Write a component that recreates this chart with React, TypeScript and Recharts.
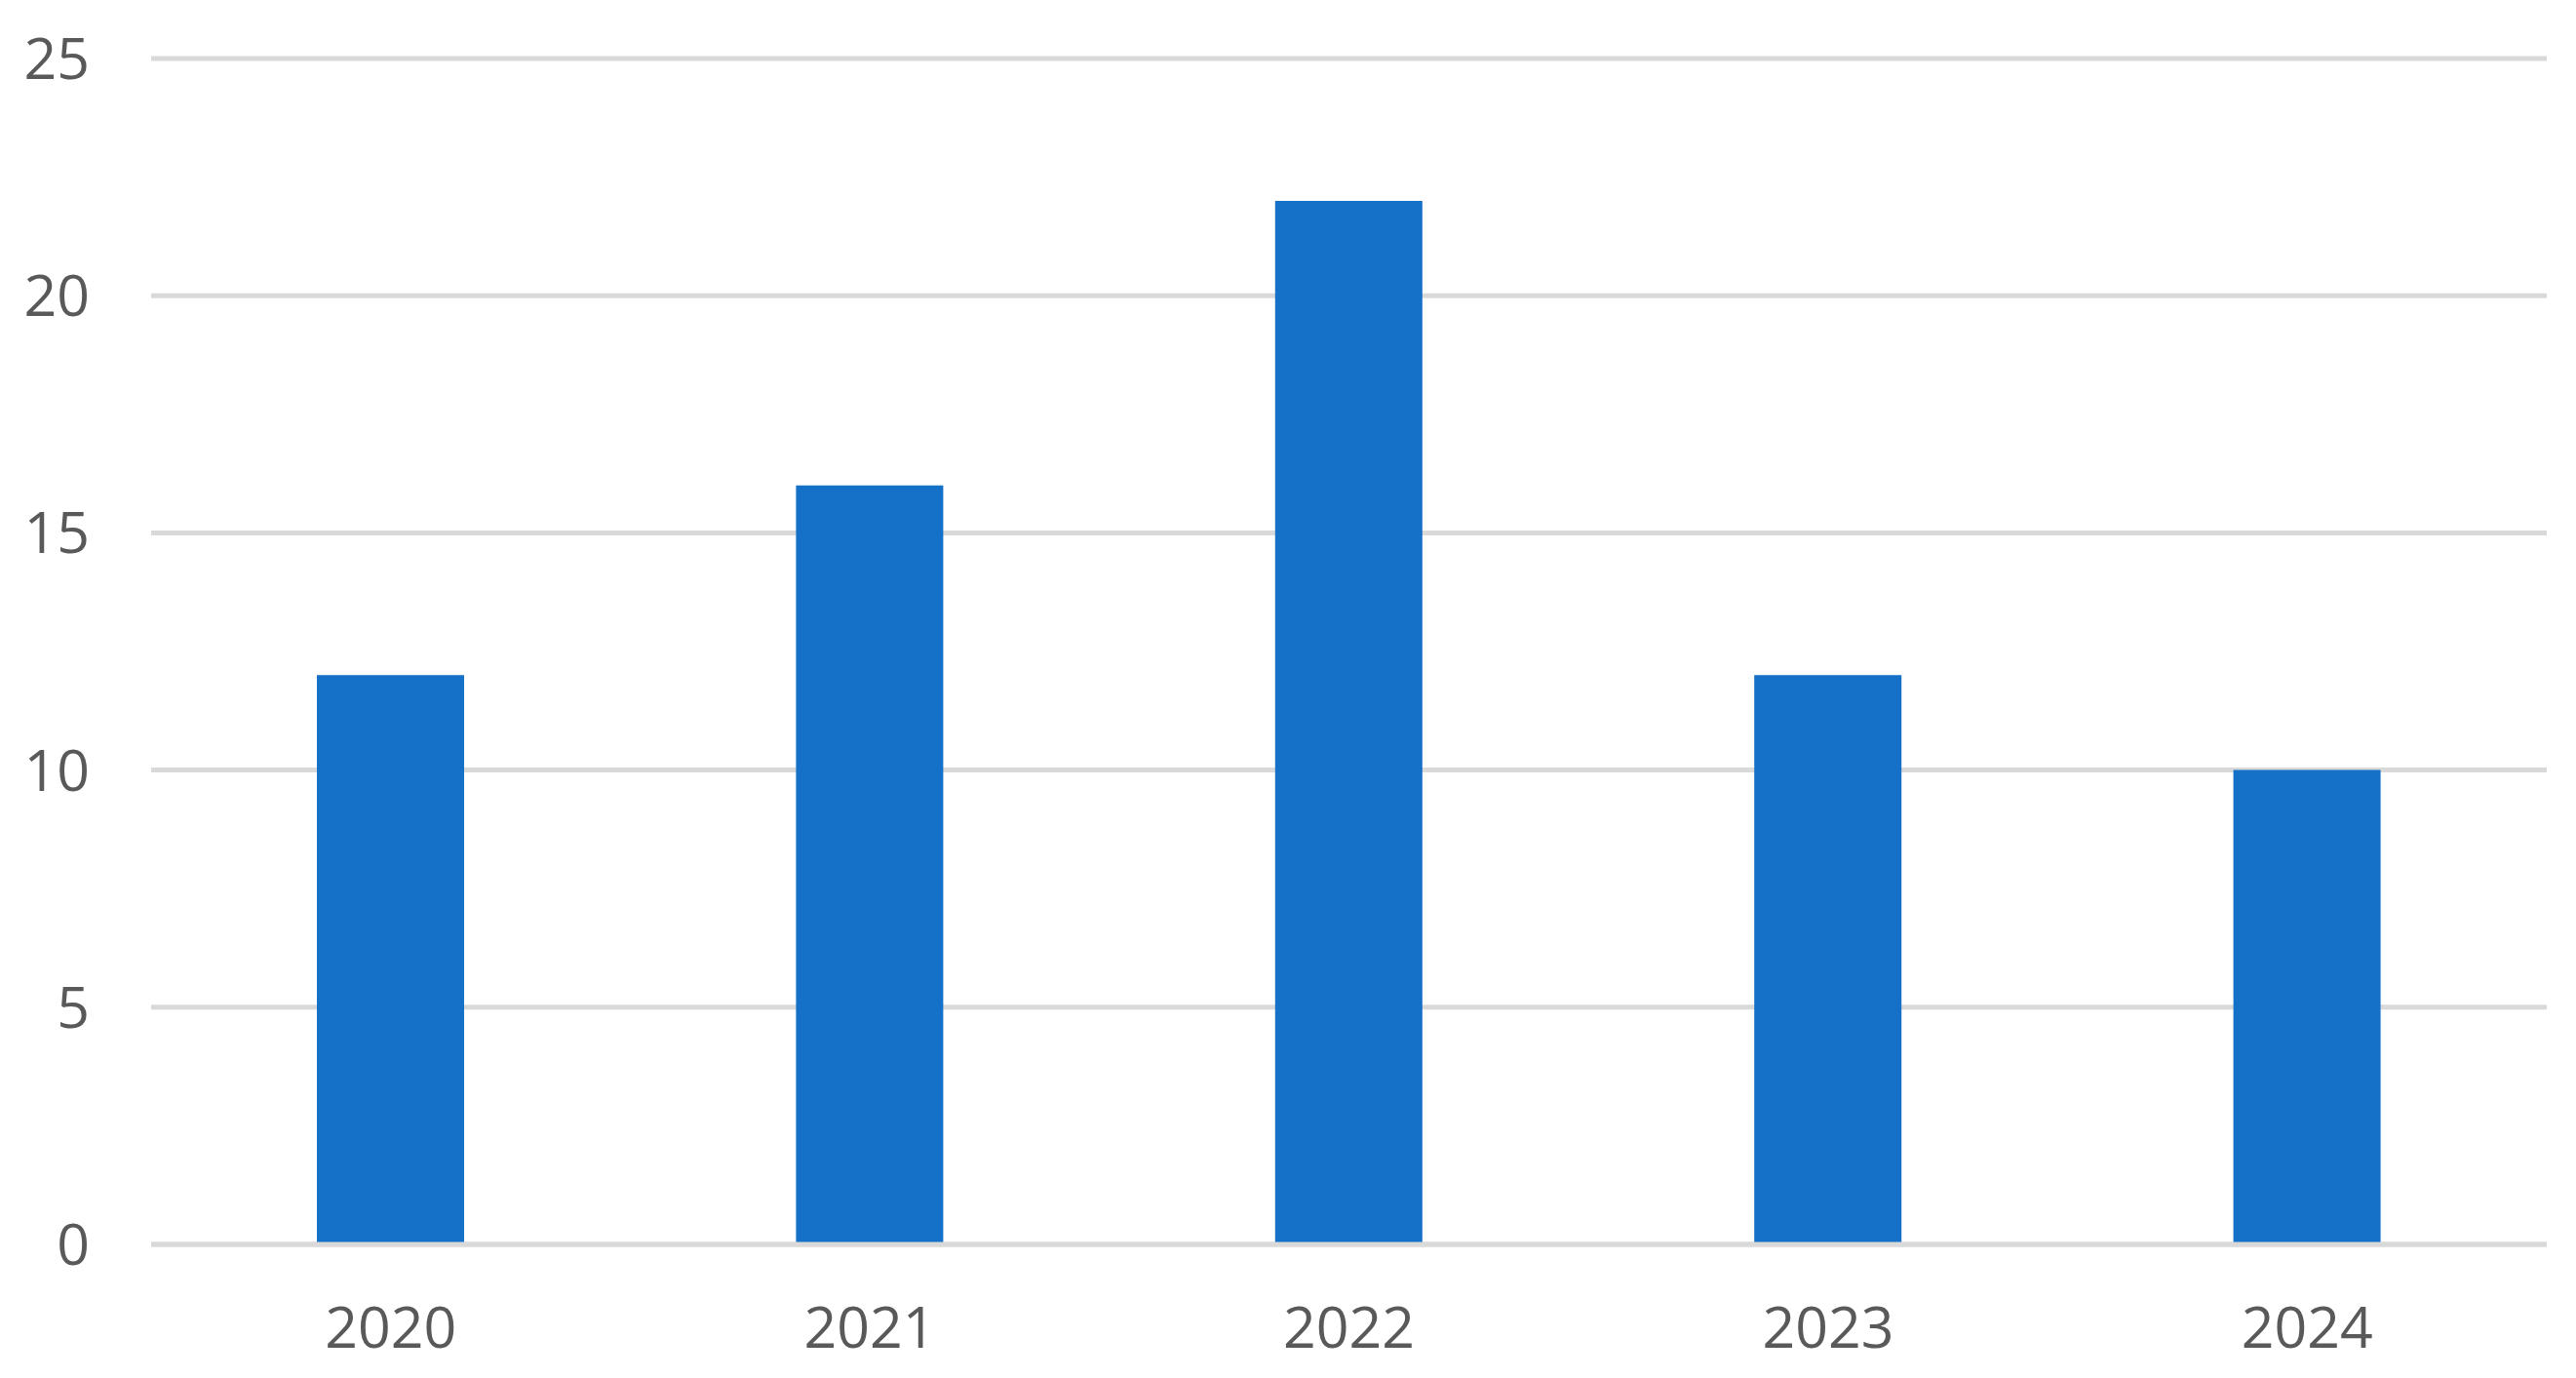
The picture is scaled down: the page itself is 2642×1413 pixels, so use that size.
import React from 'react';
import { BarChart, Bar, XAxis, YAxis, CartesianGrid } from 'recharts';

const years = ['2020', '2021', '2022', '2023', '2024'];
const counts = [12, 16, 22, 12, 10];
const yTicks = [0, 5, 10, 15, 20, 25];

const data = years.map((year, i) => ({ year, value: counts[i] }));

const tickStyle = { fill: '#595959', fontSize: 59, fontFamily: '"Open Sans", sans-serif' };

export default function App() {
  return (
    <div style={{ position: 'absolute', left: 0, top: 0, background: '#fff' }}>
      <BarChart
        width={2642}
        height={1413}
        data={data}
        margin={{ top: 60, right: 30, bottom: 0, left: 0 }}
      >
        <CartesianGrid vertical={false} stroke="#d9d9d9" strokeWidth={5} />
        <XAxis
          dataKey="year"
          height={137}
          axisLine={{ stroke: '#d9d9d9', strokeWidth: 5 }}
          tickLine={false}
          tickSize={0}
          tickMargin={64}
          tick={tickStyle}
        />
        <YAxis
          width={155}
          domain={[0, 25]}
          ticks={yTicks}
          axisLine={false}
          tickLine={false}
          tickSize={0}
          tickMargin={63}
          tick={tickStyle}
        />
        <Bar dataKey="value" fill="#1570c8" barSize={151} isAnimationActive={false} />
      </BarChart>
    </div>
  );
}
